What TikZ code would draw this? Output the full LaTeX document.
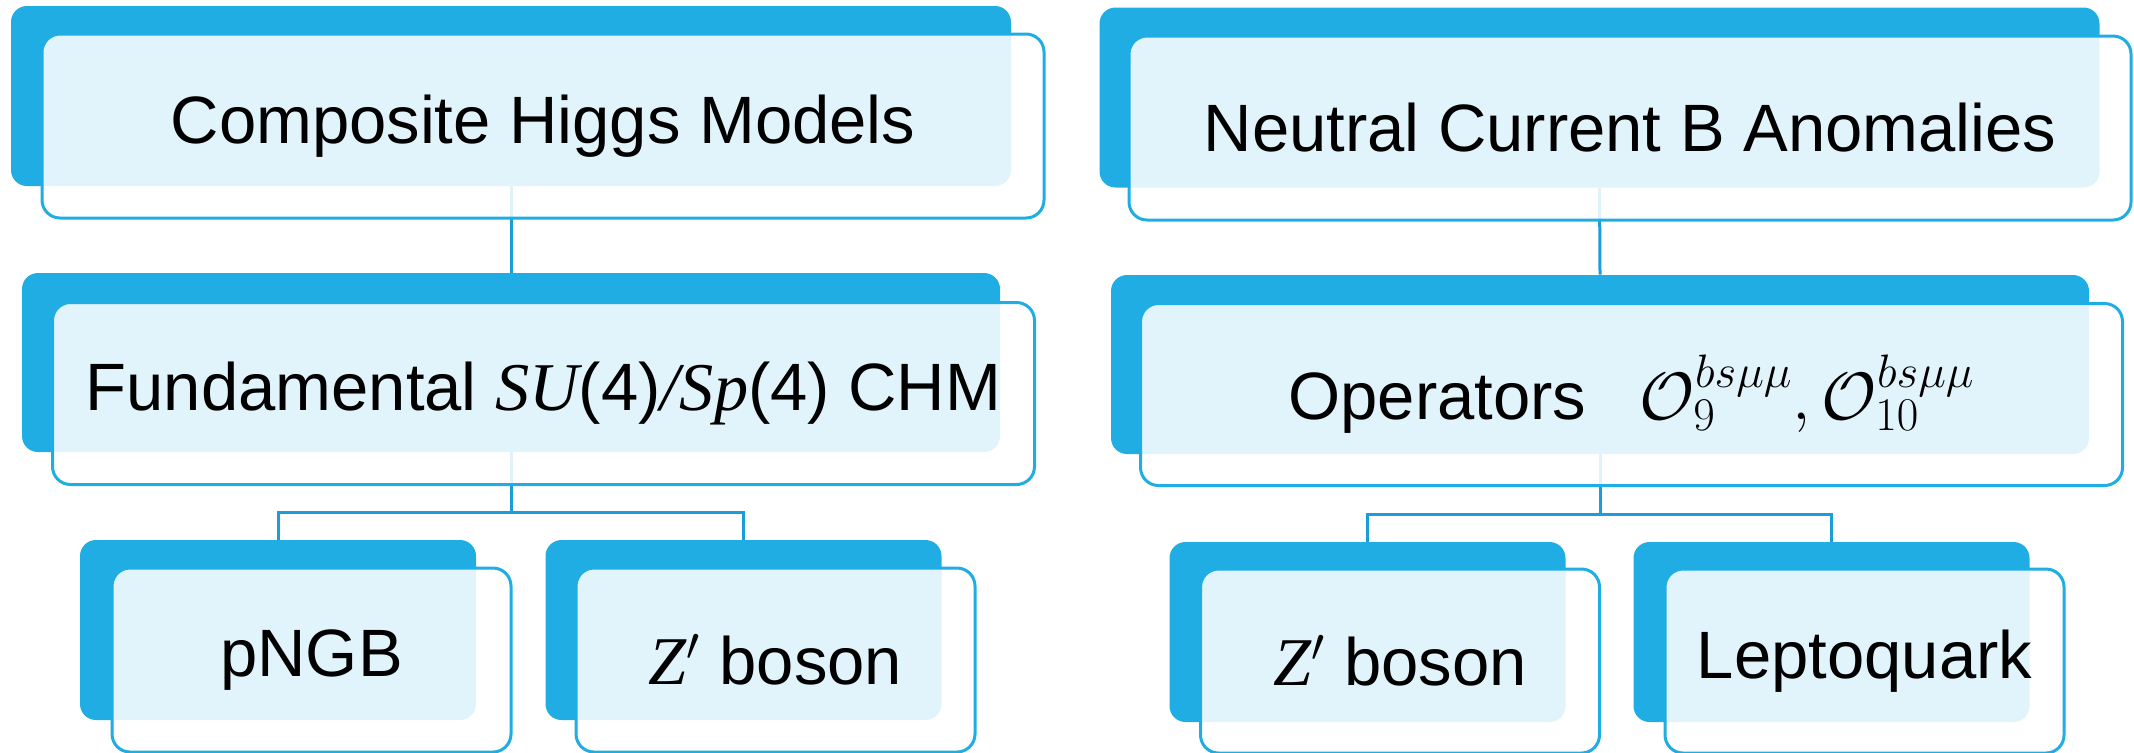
\RequirePackage{fix-cm}
\documentclass[tikz,border=0pt]{standalone}
\usepackage{fontspec}
\setmainfont{Liberation Sans}
\newfontfamily\symserif{Liberation Serif}[Scale=1.02]
\newcommand{\mi}[1]{{\symserif\itshape #1}}
\usepackage{tikz}
\usetikzlibrary{backgrounds}
\definecolor{bxBlue}{HTML}{1FADE3}
\definecolor{bxLine}{HTML}{1B9DD9}

\begin{document}
\begin{tikzpicture}[x=0.5pt, y=-0.5pt, font=\fontsize{33.5}{40}\selectfont,
  back/.style={rectangle,rounded corners=8pt,fill=bxBlue,inner sep=0pt},
  front/.style={rectangle,rounded corners=9pt,draw=bxBlue,line width=1.5pt,
    fill=white,fill opacity=0.87,text opacity=1,inner sep=0pt},
  big/.style={minimum width=500pt,minimum height=90pt},
  mid/.style={minimum width=489pt,minimum height=89.5pt},
  small/.style={minimum width=198pt,minimum height=90pt},
  link/.style={bxLine,line width=1.5pt}]
\useasboundingbox (0,0) rectangle (2134,752);
\node[back,big] (chmB) at (511,96) {};
\node[back,big] (nbaB) at (1599.5,97.5) {};
\node[back,mid] (fundB) at (511,362.5) {};
\node[back,mid] (opsB) at (1600,364.5) {};
\node[back,small] (pngbB) at (278,630) {};
\node[back,small] (zpaB) at (743.5,630) {};
\node[back,small] (zpbB) at (1367.5,632) {};
\node[back,small] (lqB) at (1831.5,632) {};
\begin{scope}[on background layer]
\draw[link] (chmB.south) -- (fundB.north);
\draw[link] (nbaB.south) -- (opsB.north);
\draw[link] (fundB.south) -- ++(0,60) coordinate (fundJ);
\draw[link] (pngbB.north) |- (fundJ) -| (zpaB.north);
\draw[link] (opsB.south) -- ++(0,60) coordinate (opsJ);
\draw[link] (zpbB.north) |- (opsJ) -| (lqB.north);
\end{scope}
\node[front,big,minimum width=501pt,minimum height=92pt] (chm) at (543,126) {Composite Higgs Models};
\node[front,big,minimum width=501pt,minimum height=92pt] (nba) at (1630,128) {Neutral Current B Anomalies};
\node[front,mid,minimum width=491pt,minimum height=91pt] (fund) at (543.5,393.5)
  {Fundamental \mi{SU}(4)\mi{/Sp}(4) CHM};
\node[front,mid,minimum width=491pt,minimum height=91pt] (ops) at (1631.5,394.5)
  {Operators\hspace{0.8em}$\mathcal{O}_9^{bs\mu\mu}, \mathcal{O}_{10}^{bs\mu\mu}$};
\node[front,small,minimum width=199.5pt,minimum height=92pt] (pngb) at (311.5,660) {pNGB};
\node[front,small,minimum width=199.5pt,minimum height=92pt] (zpa) at (775.5,660) {\mi{Z}$'$ boson};
\node[front,small,minimum width=199.5pt,minimum height=92pt] (zpb) at (1400,661) {\mi{Z}$'$ boson};
\node[front,small,minimum width=199.5pt,minimum height=92pt] (lq) at (1864.5,661) {Leptoquark};
\end{tikzpicture}
\end{document}
